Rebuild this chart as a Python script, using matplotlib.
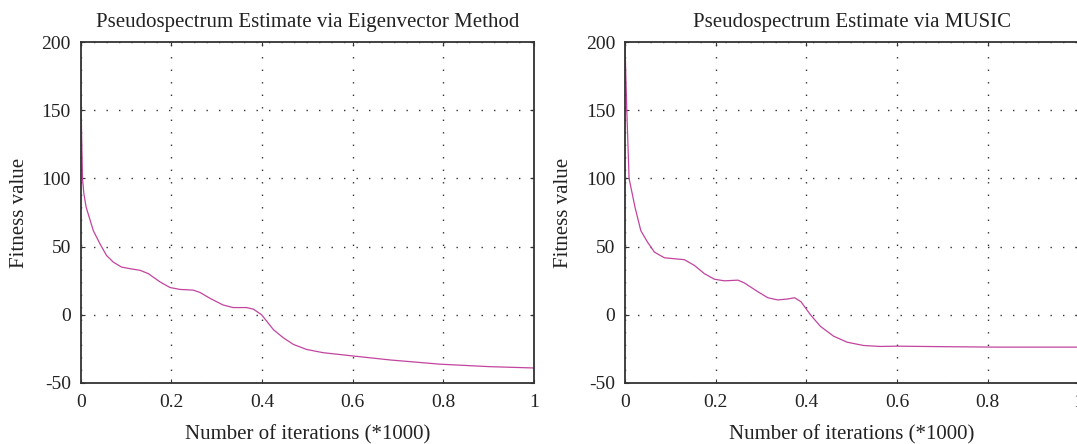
import numpy as np
import matplotlib.pyplot as plt

plt.rcParams['font.family'] = ['Liberation Serif', 'DejaVu Serif']
plt.rcParams['axes.unicode_minus'] = False

# Eigenvector method curve
x_ev = [0.0, 0.001, 0.004, 0.007, 0.012, 0.023, 0.028, 0.0426, 0.057, 0.072,
        0.09, 0.109, 0.131, 0.149, 0.175, 0.197, 0.219, 0.248, 0.263, 0.285,
        0.314, 0.336, 0.366, 0.381, 0.399, 0.425, 0.447, 0.469, 0.498, 0.535,
        0.601, 0.682, 0.792, 0.9, 1.0]
y_ev = [192, 150, 100, 89, 79, 67, 61.6, 52, 43.5, 38.6,
        35, 33.8, 32.6, 30.2, 24.1, 20, 18.6, 18.1, 16.4, 12.1,
        7.2, 5.3, 5.3, 4.1, 0, -10.9, -16.9, -21.7, -25.4, -27.8,
        -30.2, -33.1, -36.2, -38, -39]

# MUSIC curve
x_mu = [0.0, 0.004, 0.009, 0.022, 0.035, 0.05, 0.065, 0.087, 0.109, 0.131,
        0.153, 0.175, 0.197, 0.219, 0.249, 0.263, 0.293, 0.315, 0.337, 0.359,
        0.374, 0.388, 0.409, 0.431, 0.46, 0.49, 0.526, 0.563, 0.6, 0.71,
        0.82, 1.0]
y_mu = [198, 150, 100, 79, 61.6, 53.1, 45.9, 41.8, 41.1, 40.4,
        36.2, 30.2, 26.1, 24.9, 25.4, 23.4, 16.9, 12.5, 10.9, 11.6,
        12.5, 9.6, 0, -8.5, -15.7, -20.1, -22.5, -23.2, -23, -23.4,
        -23.7, -23.7]

titles = ["Pseudospectrum Estimate via Eigenvector Method",
          "Pseudospectrum Estimate via MUSIC"]
xticks = [0, 0.2, 0.4, 0.6, 0.8, 1]
xticklabels = ["0", "0.2", "0.4", "0.6", "0.8", "1"]
yticks = [-50, 0, 50, 100, 150, 200]

line_color = '#c2449f'
frame_color = '#333333'
text_color = '#222222'

fig = plt.figure(figsize=(10.77, 4.44), dpi=100)
ax1 = fig.add_axes([0.0749, 0.1374, 0.4211, 0.768])
ax2 = fig.add_axes([0.5803, 0.1374, 0.4211, 0.768])

for ax, xs, ys, title in [(ax1, x_ev, y_ev, titles[0]), (ax2, x_mu, y_mu, titles[1])]:
    ax.plot(xs, ys, color=line_color, lw=0.9)
    ax.set_xlim(0, 1)
    ax.set_ylim(-50, 200)
    ax.set_xticks(xticks)
    ax.set_xticklabels(xticklabels)
    ax.set_yticks(yticks)
    ax.grid(True, color='#333333', linestyle=(0, (1, 8)), linewidth=1.0)
    ax.tick_params(direction='in', length=3, labelsize=14, colors=frame_color,
                   labelcolor=text_color, right=True, top=True)
    ax.tick_params(axis='x', pad=8)
    ax.tick_params(axis='y', pad=7)
    for sp in ax.spines.values():
        sp.set_color(frame_color)
        sp.set_linewidth(1.3)
    ax.set_title(title, fontsize=15, color=text_color, pad=11)
    ax.set_xlabel("Number of iterations (*1000)", fontsize=15, color=text_color, labelpad=10)
    ax.set_ylabel("Fitness value", fontsize=15, color=text_color, labelpad=9)

fig.savefig('out.png', dpi=100)
